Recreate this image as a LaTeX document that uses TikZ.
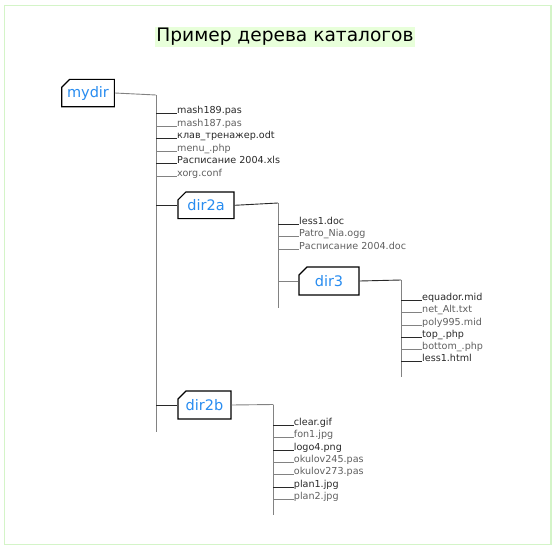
\documentclass[tikz,border=0pt]{standalone}
\usepackage{fontspec}
\setmainfont{DejaVu Sans}
\usetikzlibrary{shapes.misc}
\definecolor{dirblue}{RGB}{40,140,240}
\definecolor{framegreen}{RGB}{212,244,200}
\definecolor{titlebg}{RGB}{232,255,218}
\definecolor{lnd}{RGB}{40,40,40}
\definecolor{lng}{RGB}{130,130,130}
\definecolor{txg}{RGB}{95,95,95}
\tikzset{
  dirbox/.style={draw=black, line width=1.1pt, chamfered rectangle, chamfered rectangle corners=north west, chamfered rectangle xsep=4pt, chamfered rectangle ysep=4pt, inner sep=0pt, text=dirblue, font=\fontsize{14.5}{16}\selectfont, fill=white},
  fileD/.style={anchor=base west, inner sep=0pt, text=lnd, font=\fontsize{9.6}{10}\selectfont},
  fileG/.style={anchor=base west, inner sep=0pt, text=txg, font=\fontsize{9.6}{10}\selectfont},
  trunk/.style={draw=lng, line width=0.9pt},
  linkD/.style={draw=lnd, line width=0.9pt},
  linkG/.style={draw=lng, line width=0.9pt},
}
\begin{document}
\begin{tikzpicture}[x=1pt,y=-1pt]
\useasboundingbox (0,0) rectangle (556,551);
\draw[framegreen, line width=1.5pt] (4.5,5.5) rectangle (551,544.5);
% title
\node[fill=titlebg, inner xsep=1pt, inner ysep=1.5pt, font=\fontsize{18.6}{20}\selectfont, text=black] (title) at (285,37) {Пример дерева каталогов};
% directory boxes
\node[dirbox, minimum width=52.6pt, minimum height=27.4pt] (mydir) at (88,93) {mydir};
\node[dirbox, minimum width=56pt, minimum height=26.7pt] (dir2a) at (206,205.3) {dir2a};
\node[dirbox, minimum width=60pt, minimum height=28pt] (dir3) at (329,281) {dir3};
\node[dirbox, minimum width=53pt, minimum height=28pt] (dir2b) at (204.5,405) {dir2b};
% trunk coordinates
\coordinate (t1a) at (156,95);  \coordinate (t1b) at (156,432);
\coordinate (t2a) at (278,203); \coordinate (t2b) at (278,308);
\coordinate (t3a) at (401,280); \coordinate (t3b) at (401,377);
\coordinate (t4a) at (273.3,404.5); \coordinate (t4b) at (273.3,515);
% mydir files
\node[fileD] (m1) at (177,113.3) {mash189.pas};
\node[fileG] (m2) at (177,126) {mash187.pas};
\node[fileD] (m3) at (177,138.3) {клав\_тренажер.odt};
\node[fileG] (m4) at (177,151) {menu\_.php};
\node[fileD] (m5) at (177,163.3) {Расписание 2004.xls};
\node[fileG] (m6) at (177,176) {xorg.conf};
% dir2a files
\node[fileD] (a1) at (299,224.3) {less1.doc};
\node[fileG] (a2) at (299,236) {Patro\_Nia.ogg};
\node[fileG] (a3) at (299,249) {Расписание 2004.doc};
% dir3 files
\node[fileD] (c1) at (422,300) {equador.mid};
\node[fileG] (c2) at (422,312.3) {net\_Alt.txt};
\node[fileG] (c3) at (422,325) {poly995.mid};
\node[fileD] (c4) at (422,337) {top\_.php};
\node[fileG] (c5) at (422,349.3) {bottom\_.php};
\node[fileD] (c6) at (422,361.7) {less1.html};
% dir2b files
\node[fileD] (b1) at (293.7,425) {clear.gif};
\node[fileG] (b2) at (293.7,437.3) {fon1.jpg};
\node[fileD] (b3) at (293.7,450) {logo4.png};
\node[fileG] (b4) at (293.7,462) {okulov245.pas};
\node[fileG] (b5) at (293.7,474.3) {okulov273.pas};
\node[fileD] (b6) at (293.7,487) {plan1.jpg};
\node[fileG] (b7) at (293.7,499) {plan2.jpg};
% trunks
\draw[trunk] (t1a) -- (t1b);
\draw[trunk] (t2a) -- (t2b);
\draw[trunk] (t3a) -- (t3b);
\draw[trunk] (t4a) -- (t4b);
% box connectors
\draw[linkG] (mydir.east) -- (t1a);
\draw[linkD] (t1a |- dir2a.west) -- (dir2a.west);
\draw[linkD] (t1a |- dir2b.west) -- (dir2b.west);
\draw[linkD] (dir2a.east) -- (t2a);
\draw[linkG] (t2a |- dir3.west) -- (dir3.west);
\draw[linkD] (dir3.east) -- (t3a);
\draw[linkG] (dir2b.east) -- (t4a);
% file connectors
\foreach \n/\s in {m1/linkD,m2/linkG,m3/linkD,m4/linkG,m5/linkD,m6/linkG}
  \draw[\s] (t1a |- \n.base west) -- (\n.base west);
\foreach \n/\s in {a1/linkD,a2/linkG,a3/linkG}
  \draw[\s] (t2a |- \n.base west) -- (\n.base west);
\foreach \n/\s in {c1/linkD,c2/linkG,c3/linkG,c4/linkD,c5/linkG,c6/linkD}
  \draw[\s] (t3a |- \n.base west) -- (\n.base west);
\foreach \n/\s in {b1/linkD,b2/linkG,b3/linkD,b4/linkG,b5/linkG,b6/linkD,b7/linkG}
  \draw[\s] (t4a |- \n.base west) -- (\n.base west);
\end{tikzpicture}
\end{document}
